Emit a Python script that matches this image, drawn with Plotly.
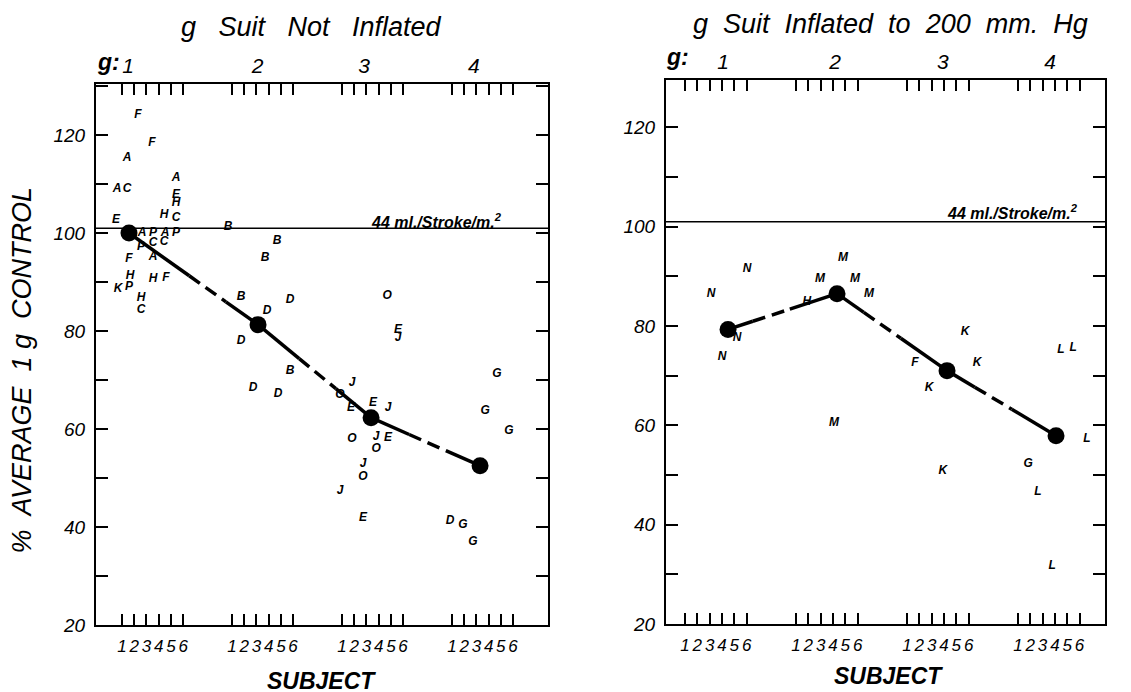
import numpy as np
import plotly.graph_objects as go

W, H = 1131, 692
OFF = 8        # default page body margin of the written html
H_EFF = 680    # vertical extent the figure is actually drawn with on the page

# ---------------- tick labels / axis values ----------------
subject_digits = ["1", "2", "3", "4", "5", "6"]
g_levels = ["1", "2", "3", "4"]
y_tick_values = [20, 30, 40, 50, 60, 70, 80, 90, 100, 110, 120, 130]
y_tick_text = ["20", "", "40", "", "60", "", "80", "", "100", "", "120", ""]
control_level = [101, 101]          # 44 ml./Stroke/m.2 reference line (left, right)

# subject slots: group g (0..3) subject s (1..6) -> g*9 + s
group_width = 9
subject_pos = [g * group_width + s for g in range(4) for s in range(1, 7)]
subject_text = subject_digits * 4

# ---------------- left panel: g suit not inflated ----------------
left_letters = ["F", "F", "A", "A", "C", "A", "E", "H", "C", "H", "E",
                "A", "P", "A", "P", "P", "C", "C", "A", "F", "H", "P", "K", "H", "F", "H", "C",
                "B", "B", "B", "B", "D", "D", "D", "B", "D", "D",
                "O", "E", "J", "J", "O", "E", "E", "J", "O", "J", "E", "O", "J", "O", "J", "E",
                "G", "G", "G", "D", "G", "G"]
left_x = [2.31, 3.45, 1.41, 0.59, 1.41, 5.42, 5.42, 5.42, 5.42, 4.44, 0.51,
          2.64, 3.54, 4.52, 5.42, 2.55, 3.54, 4.44, 3.54, 1.57, 1.65, 1.57, 0.67, 3.54, 4.60, 2.55, 2.55,
          9.67, 13.68, 12.70, 10.74, 14.75, 12.87, 10.74, 14.75, 11.72, 13.77,
          22.69, 23.59, 23.59, 19.82, 18.84, 19.74, 21.54, 22.77, 19.82, 21.79, 22.77, 21.79, 20.72, 20.72, 18.84, 20.72,
          31.69, 30.71, 32.67, 27.84, 28.90, 29.72]
left_y = [124.1, 118.4, 115.3, 109.0, 109.0, 111.2, 107.8, 106.1, 103.0, 103.6, 102.6,
          100.0, 100.0, 100.0, 100.0, 97.1, 97.9, 98.1, 95.1, 94.6, 91.2, 88.9, 88.5, 90.6, 90.8, 86.7, 84.2,
          101.2, 98.3, 94.8, 86.9, 86.3, 84.0, 77.9, 71.9, 68.3, 67.2,
          87.1, 80.3, 78.5, 69.3, 67.0, 64.2, 65.2, 64.2, 58.0, 58.4, 58.2, 56.0, 52.9, 50.1, 47.4, 41.9,
          71.3, 63.6, 59.5, 41.3, 40.4, 37.0]
left_mean_x = [1.57, 12.13, 21.38, 30.30]
left_mean_y = [100.0, 81.3, 62.3, 52.5]
left_top_label_pos = [1.5, 12.1, 20.8, 29.8]

# ---------------- right panel: g suit inflated ----------------
right_letters = ["N", "N", "N", "N",
                 "M", "M", "M", "M", "H", "M",
                 "K", "F", "K", "K", "K",
                 "L", "L", "L", "G", "L", "L"]
right_x = [6.03, 3.11, 5.22, 4.00,
           13.81, 11.95, 14.79, 15.92, 10.89, 13.08,
           23.71, 19.65, 24.68, 20.79, 21.92,
           31.49, 32.47, 33.60, 28.82, 29.63, 30.77]
right_y = [91.4, 86.5, 77.5, 73.8,
           93.6, 89.4, 89.4, 86.5, 84.9, 60.5,
           78.7, 72.6, 72.6, 67.6, 50.8,
           75.2, 75.6, 57.3, 52.1, 46.6, 31.7]
right_mean_x = [4.49, 13.33, 22.25, 31.09]
right_mean_y = [79.3, 86.5, 71.0, 57.9]
right_top_label_pos = [4.08, 13.17, 21.9, 30.6]

FONT = "Liberation Sans"


def px(x):
    return (x - OFF) / W


def py(y):
    return 1 - (y - OFF) / H_EFF


def split_line(mx, my, lo=0.5, hi=6.5):
    """Solid inside each subject group, dashed across the gaps between groups."""
    bps = set(mx)
    spans = [(g * group_width + lo, g * group_width + hi) for g in range(4)]
    for a, b in spans:
        for v in (a, b):
            if min(mx) < v < max(mx):
                bps.add(v)
    bps = sorted(bps)
    sx, sy, dx, dy = [], [], [], []
    for a, b in zip(bps[:-1], bps[1:]):
        mid = 0.5 * (a + b)
        ya, yb = np.interp([a, b], mx, my)
        solid = any(s0 <= mid <= s1 for s0, s1 in spans)
        if solid:
            sx += [a, b, None]; sy += [ya, yb, None]
        else:
            dx += [a, b, None]; dy += [ya, yb, None]
    return sx, sy, dx, dy


fig = go.Figure()

panels = [
    ("x", "y", left_letters, left_x, left_y, left_mean_x, left_mean_y),
    ("x2", "y2", right_letters, right_x, right_y, right_mean_x, right_mean_y),
]
for xa, ya, letters, lx, ly, mx, my in panels:
    fig.add_trace(go.Scatter(
        x=lx, y=ly, text=letters, mode="text", xaxis=xa, yaxis=ya,
        textfont=dict(family=FONT, size=12, color="black", weight="bold", style="italic"),
        showlegend=False, hoverinfo="skip"))
    sx, sy, dx, dy = split_line(mx, my)
    fig.add_trace(go.Scatter(x=sx, y=sy, mode="lines", xaxis=xa, yaxis=ya,
                             line=dict(color="black", width=3.5), showlegend=False))
    fig.add_trace(go.Scatter(x=dx, y=dy, mode="lines", xaxis=xa, yaxis=ya,
                             line=dict(color="black", width=3.5, dash="13px,7px"), showlegend=False))
    fig.add_trace(go.Scatter(x=mx, y=my, mode="markers", xaxis=xa, yaxis=ya,
                             marker=dict(color="black", size=17), showlegend=False))

# invisible traces so the top label axes get drawn
fig.add_trace(go.Scatter(x=[0], y=[50], xaxis="x3", yaxis="y", mode="markers",
                         marker=dict(opacity=0), showlegend=False, hoverinfo="skip"))
fig.add_trace(go.Scatter(x=[0], y=[50], xaxis="x4", yaxis="y2", mode="markers",
                         marker=dict(opacity=0), showlegend=False, hoverinfo="skip"))

left_dom_x = [px(96), px(548)]
left_dom_y = [py(624), py(84)]
right_dom_x = [px(666), px(1105)]
right_dom_y = [py(623), py(80)]
left_xr = [-1.13, 35.86]
right_xr = [-0.54, 35.06]

tickfont_x = dict(family=FONT, size=17, color="black", style="italic")
tickfont_y = dict(family=FONT, size=19, color="black", style="italic")


def xaxis_bottom(dom, rng, anchor):
    return dict(domain=dom, range=rng, anchor=anchor, tickmode="array",
                tickvals=subject_pos, ticktext=subject_text, ticks="inside",
                ticklen=11, tickwidth=2, tickcolor="black", showline=True,
                linecolor="black", linewidth=2, mirror="ticks", showgrid=False,
                zeroline=False, tickfont=tickfont_x, tickangle=0, ticklabelstandoff=5)


def xaxis_top(dom, rng, anchor, over, pos):
    return dict(domain=dom, range=rng, anchor=anchor, overlaying=over, side="top",
                tickmode="array", tickvals=pos, ticktext=g_levels, ticks="",
                showline=False, showgrid=False, zeroline=False, tickangle=0,
                tickfont=dict(family=FONT, size=21, color="black", style="italic"),
                ticklabelstandoff=6)


def yaxis(dom, rng, anchor):
    return dict(domain=dom, range=rng, anchor=anchor, tickmode="array",
                tickvals=y_tick_values, ticktext=y_tick_text, ticks="inside",
                ticklen=12, tickwidth=2, tickcolor="black", showline=True,
                linecolor="black", linewidth=2, mirror="ticks", showgrid=False,
                zeroline=False, tickfont=tickfont_y, ticklabelstandoff=5)


fig.update_layout(
    width=W, height=H, margin=dict(l=0, r=0, t=0, b=0),
    paper_bgcolor="white", plot_bgcolor="white", showlegend=False,
    xaxis=xaxis_bottom(left_dom_x, left_xr, "y"),
    yaxis=yaxis(left_dom_y, [20, 130.4], "x"),
    xaxis2=xaxis_bottom(right_dom_x, right_xr, "y2"),
    yaxis2=yaxis(right_dom_y, [20, 129.5], "x2"),
    xaxis3=xaxis_top(left_dom_x, left_xr, "y", "x", left_top_label_pos),
    xaxis4=xaxis_top(right_dom_x, right_xr, "y2", "x2", right_top_label_pos),
)

# reference line at the control level
fig.add_shape(type="line", xref="x domain", yref="y", x0=0, x1=1,
              y0=control_level[0], y1=control_level[0], line=dict(color="black", width=1.5))
fig.add_shape(type="line", xref="x2 domain", yref="y2", x0=0, x1=1,
              y0=control_level[1], y1=control_level[1], line=dict(color="black", width=1.5))

ann_font = dict(family=FONT, color="black", style="italic")
annotations = [
    dict(text="g&nbsp;&nbsp; Suit&nbsp;&nbsp; Not&nbsp;&nbsp; Inflated", x=311, y=27, size=27, weight="normal"),
    dict(text="g&nbsp; Suit&nbsp; Inflated&nbsp; to&nbsp; 200&nbsp; mm.&nbsp; Hg", x=890, y=24, size=27, weight="normal"),
    dict(text="g:", x=108, y=62, size=23, weight="bold"),
    dict(text="g:", x=677, y=57, size=23, weight="bold"),
    dict(text="SUBJECT", x=322, y=680, size=23, weight="bold"),
    dict(text="SUBJECT", x=888, y=675, size=23, weight="bold"),
    dict(text="44 ml./Stroke/m.<sup>2</sup>", x=436, y=221, size=16, weight="bold"),
    dict(text="44 ml./Stroke/m.<sup>2</sup>", x=1012, y=212, size=16, weight="bold"),
]
for a in annotations:
    fig.add_annotation(text=a["text"], x=px(a["x"]), y=py(a["y"]), xref="paper", yref="paper",
                       showarrow=False, xanchor="center", yanchor="middle",
                       font=dict(ann_font, size=a["size"], weight=a["weight"]))

fig.add_annotation(text="%&nbsp; AVERAGE&nbsp; 1 g&nbsp; CONTROL", x=px(22), y=py(370),
                   xref="paper", yref="paper", showarrow=False, textangle=-90,
                   xanchor="center", yanchor="middle",
                   font=dict(family=FONT, size=27, color="black", style="italic"))

fig.write_html("out.html")
